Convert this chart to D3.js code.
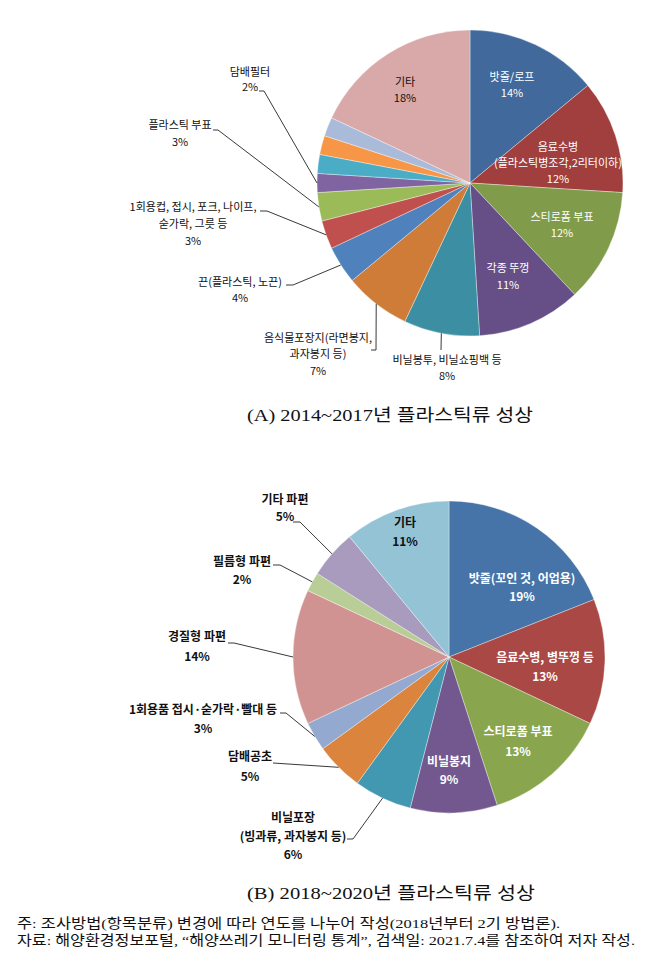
<!DOCTYPE html>
<html><head><meta charset="utf-8">
<script src="https://cdn.jsdelivr.net/npm/d3@7"></script>
<style>
html,body{margin:0;padding:0;background:#fff;}
svg{display:block;}
</style>
</head><body>
<svg id="chart" width="650" height="967"></svg>
<script>
// ---------- DATA ----------
const topCategories = ["밧줄/로프","음료수병(플라스틱병조각,2리터이하)","스티로폼 부표","각종 뚜껑","비닐봉투, 비닐쇼핑백 등","음식물포장지(라면봉지, 과자봉지 등)","끈(플라스틱, 노끈)","1회용컵, 접시, 포크, 나이프, 숟가락, 그릇 등","플라스틱 부표","담배필터","(미표기 1)","(미표기 2)","(미표기 3)","기타"];
const topValues = [14,12,12,11,8,7,4,3,3,2,2,2,2,18];
const topLabels = [["밧줄/로프","14%"],["음료수병","(플라스틱병조각,2리터이하)","12%"],["스티로폼 부표","12%"],["각종 뚜껑","11%"],["비닐봉투, 비닐쇼핑백 등","8%"],["음식물포장지(라면봉지,","과자봉지 등)","7%"],["끈(플라스틱, 노끈)","4%"],["1회용컵, 접시, 포크, 나이프,","숟가락, 그릇 등","3%"],["플라스틱 부표","3%"],["담배필터","2%"],null,null,null,["기타","18%"]];

const bottomCategories = ["밧줄(꼬인 것, 어업용)","음료수병, 병뚜껑 등","스티로폼 부표","비닐봉지","비닐포장(빙과류, 과자봉지 등)","담배공초","1회용품 접시·숟가락·빨대 등","경질형 파편","필름형 파편","기타 파편","기타"];
const bottomValues = [19,13,13,9,6,5,3,14,2,5,11];
const bottomLabels = [["밧줄(꼬인 것, 어업용)","19%"],["음료수병, 병뚜껑 등","13%"],["스티로폼 부표","13%"],["비닐봉지","9%"],["비닐포장","(빙과류, 과자봉지 등)","6%"],["담배공초","5%"],["1회용품 접시·숟가락·빨대 등","3%"],["경질형 파편","14%"],["필름형 파편","2%"],["기타 파편","5%"],["기타","11%"]];

const captionA = "(A) 2014~2017년 플라스틱류 성상";
const captionB = "(B) 2018~2020년 플라스틱류 성상";
const note1 = "주: 조사방법(항목분류) 변경에 따라 연도를 나누어 작성(2018년부터 2기 방법론).";
const note2 = "자료: 해양환경정보포털, “해양쓰레기 모니터링 통계”, 검색일: 2021.7.4를 참조하여 저자 작성.";

// ---------- STYLE / LAYOUT ----------
const topColors = ["#41699b","#a03f3d","#809c4a","#654f86","#3c8ea2","#cf7c38","#4f81bd","#c0504d","#9bbb59","#8064a2","#4bacc6","#f79646","#aabbd9","#d9a8a8"];
const bottomColors = ["#4673a8","#aa4846","#89a64f","#72588f","#4298b0","#db843d","#93a9cf","#d09392","#b9cd96","#a99bbd","#93c3d5"];

const topLayout = [
  {x:512,y:77,dy:16,fill:"#fff"},
  {x:558,y:147,dy:16,fill:"#fff"},
  {x:562,y:217,dy:16,fill:"#fff"},
  {x:508,y:268,dy:17,fill:"#fff"},
  {x:447,y:360,dy:16,fill:"#111",lead:[[441,350]]},
  {x:318,y:338,dy:16.5,fill:"#111",lead:[[371,350],[376,350]]},
  {x:240,y:282,dy:16,fill:"#111",lead:[[286,285],[293,285]]},
  {x:193,y:207,dy:17,fill:"#111",lead:[[260,211],[267,211]]},
  {x:180,y:125,dy:17,fill:"#111",lead:[[213,130],[218,130]]},
  {x:250,y:72,dy:15.5,fill:"#111",lead:[[259,91],[264,91]]},
  null,null,null,
  {x:405,y:82,dy:16,fill:"#111"}
];
const bottomLayout = [
  {x:522,y:579,dy:18,fill:"#fff"},
  {x:545,y:658,dy:19,fill:"#fff"},
  {x:518,y:732,dy:20,fill:"#fff"},
  {x:449,y:762,dy:18,fill:"#fff"},
  {x:293,y:818,dy:18.5,fill:"#111",lead:[[347,839],[353,839]]},
  {x:250,y:757,dy:20,fill:"#111",lead:[[273,763]]},
  {x:203,y:710,dy:19,fill:"#111",lead:[[280,713],[286,713]]},
  {x:197,y:637,dy:20,fill:"#111",lead:[[228,643],[234,643]]},
  {x:242,y:562,dy:18,fill:"#111",lead:[[273,565],[280,565]]},
  {x:285,y:500,dy:17,fill:"#111",lead:[[293,522],[300,522]]},
  {x:405,y:523,dy:19,fill:"#111"}
];

const svg = d3.select("#chart");
const sansFont = "'Noto Sans CJK KR','Noto Sans',sans-serif";
const serifFont = "'Liberation Serif','DejaVu Serif','Noto Sans CJK KR',serif";

function drawPie(cfg){
  const {cx, cy, r, values, colors, labels, layout, fontSize, weight} = cfg;
  const pie = d3.pie().sort(null).value(d=>d).startAngle(0).endAngle(2*Math.PI);
  const arcs = pie(values);
  const arc = d3.arc().innerRadius(0).outerRadius(r);
  const g = svg.append("g").attr("transform",`translate(${cx},${cy})`);
  g.selectAll("path").data(arcs).join("path")
    .attr("d",arc).attr("fill",(d,i)=>colors[i])
    .attr("stroke","#ffffff").attr("stroke-width",0.6).attr("stroke-opacity",0.6);

  const line = d3.line();
  arcs.forEach((a,i)=>{
    const L = layout[i];
    if(!L || !L.lead) return;
    const mid = (a.startAngle + a.endAngle)/2;
    const edge = [cx + r*Math.sin(mid), cy - r*Math.cos(mid)];
    const pts = L.lead.concat([edge]);
    svg.append("path").attr("d",line(pts)).attr("fill","none")
      .attr("stroke","#222").attr("stroke-width",0.9);
  });

  arcs.forEach((a,i)=>{
    const L = layout[i], lines = labels[i];
    if(!L || !lines) return;
    const t = svg.append("text").attr("font-family",sansFont).attr("font-size",fontSize)
      .attr("font-weight",weight).attr("fill",L.fill).attr("text-anchor","middle");
    lines.forEach((s,k)=>{
      t.append("tspan").attr("x",L.x).attr("y",L.y + k*L.dy).attr("dy","0.36em").text(s);
    });
  });
}

drawPie({cx:470, cy:183, r:153, values:topValues, colors:topColors, labels:topLabels, layout:topLayout, fontSize:11, weight:400});
drawPie({cx:449, cy:657, r:156, values:bottomValues, colors:bottomColors, labels:bottomLabels, layout:bottomLayout, fontSize:12, weight:700});

svg.append("text").attr("x",247).attr("y",421).attr("font-family",serifFont).attr("font-size",17.5)
  .attr("fill","#111").attr("textLength",286).attr("lengthAdjust","spacingAndGlyphs").text(captionA);
svg.append("text").attr("x",247).attr("y",899).attr("font-family",serifFont).attr("font-size",17.5)
  .attr("fill","#111").attr("textLength",288).attr("lengthAdjust","spacingAndGlyphs").text(captionB);
svg.append("text").attr("x",17).attr("y",928).attr("font-family",serifFont).attr("font-size",13.5)
  .attr("fill","#111").attr("textLength",543).attr("lengthAdjust","spacingAndGlyphs").text(note1);
svg.append("text").attr("x",17).attr("y",945).attr("font-family",serifFont).attr("font-size",13.5)
  .attr("fill","#111").attr("textLength",618).attr("lengthAdjust","spacingAndGlyphs").text(note2);
</script>
</body></html>
